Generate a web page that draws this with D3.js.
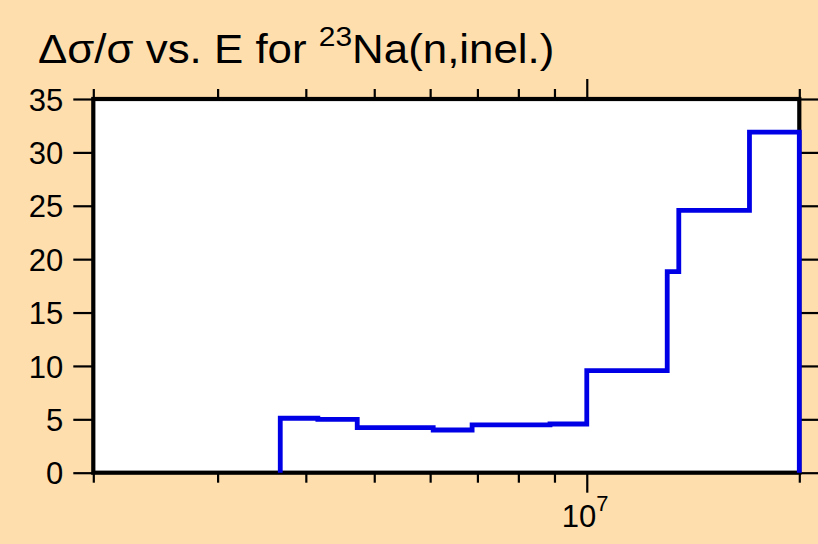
<!DOCTYPE html>
<html>
<head>
<meta charset="utf-8">
<script src="https://cdn.jsdelivr.net/npm/d3@7"></script>
<style>
  html, body { margin: 0; padding: 0; background: #FFDEAD; }
  svg { display: block; }
  text { font-family: "Liberation Sans", Arial, Helvetica, sans-serif; fill: #000; }
</style>
</head>
<body>
<svg id="chart" width="818" height="544"></svg>
<script>
// ---- data ----
const binEdges = [3.68e6, 4.16e6, 4.73e6, 6.06e6, 6.88e6, 8.87e6, 1.0e7, 1.30e7, 1.35e7, 1.70e7, 2.0e7];
const binValues = [5.1, 5.0, 4.22, 4.0, 4.47, 4.56, 9.56, 18.84, 24.56, 31.9];
const yTicks = [0, 5, 10, 15, 20, 25, 30, 35];
const xMinorTicks = [2e6, 3e6, 4e6, 5e6, 6e6, 7e6, 8e6, 9e6, 2e7];
const xMajorTicks = [1e7];
const xDomain = [2e6, 2e7];
const yDomain = [0, 35];

const svg = d3.select("#chart");
const L = 93.3, R = 799.3, T = 99, B = 472.7;

const x = d3.scaleLog().domain(xDomain).range([L, R]);
const y = d3.scaleLinear().domain(yDomain).range([B, T]);

// plot area
svg.append("rect").attr("x", L).attr("y", T).attr("width", R - L).attr("height", B - T)
  .attr("fill", "#ffffff");

// title
const title = svg.append("text").attr("x", 38).attr("y", 63).attr("font-size", 41)
  .attr("transform", "translate(38,63) scale(1.07,1) translate(-38,-63)");
title.append("tspan").text("\u0394\u03c3/\u03c3 vs. E for ");
title.append("tspan").attr("font-size", 28).attr("dy", -17).text("23");
title.append("tspan").attr("dy", 17).text("Na(n,inel.)");

function styleAxis(g) {
  g.select(".domain").remove();
  g.selectAll(".tick line").attr("stroke", "#000").attr("stroke-width", 2.2);
}

// left axis with labels
svg.append("g").attr("transform", `translate(${L},0)`)
  .call(d3.axisLeft(y).tickValues(yTicks).tickSize(20).tickPadding(10).tickFormat(d3.format("d")))
  .call(styleAxis)
  .call(g => g.selectAll(".tick text").attr("font-size", 31).attr("dy", "0.36em")
    .style("font-family", "'Liberation Sans', Arial, sans-serif"));

// right axis ticks
svg.append("g").attr("transform", `translate(${R},0)`)
  .call(d3.axisRight(y).tickValues(yTicks).tickSize(20).tickFormat(""))
  .call(styleAxis);

// bottom axis minor + major
svg.append("g").attr("transform", `translate(0,${B})`)
  .call(d3.axisBottom(x).tickValues(xMinorTicks).tickSize(10).tickFormat(""))
  .call(styleAxis);
svg.append("g").attr("transform", `translate(0,${B})`)
  .call(d3.axisBottom(x).tickValues(xMajorTicks).tickSize(20).tickFormat(""))
  .call(styleAxis);

// top axis minor + major
svg.append("g").attr("transform", `translate(0,${T})`)
  .call(d3.axisTop(x).tickValues(xMinorTicks).tickSize(10).tickFormat(""))
  .call(styleAxis);
svg.append("g").attr("transform", `translate(0,${T})`)
  .call(d3.axisTop(x).tickValues(xMajorTicks).tickSize(20).tickFormat(""))
  .call(styleAxis);

// 10^7 label
xMajorTicks.forEach(v => {
  const exp = Math.round(Math.log10(v));
  const t = svg.append("text").attr("x", x(v) - 25).attr("y", 527).attr("font-size", 31);
  t.append("tspan").text("10");
  t.append("tspan").attr("font-size", 22).attr("dy", -16).text(String(exp));
});

// frame
svg.append("rect").attr("x", L).attr("y", T).attr("width", R - L).attr("height", B - T)
  .attr("fill", "none").attr("stroke", "#000").attr("stroke-width", 4.2);

// step line
const pts = [[binEdges[0], 0]];
binValues.forEach((v, i) => {
  pts.push([binEdges[i], v]);
  pts.push([binEdges[i + 1], v]);
});
pts.push([binEdges[binEdges.length - 1], 0]);

svg.append("path")
  .datum(pts)
  .attr("fill", "none")
  .attr("stroke", "#0000e6")
  .attr("stroke-width", 4.8)
  .attr("stroke-linejoin", "miter")
  .attr("d", d3.line().x(d => x(d[0])).y(d => y(d[1])));
</script>
</body>
</html>
